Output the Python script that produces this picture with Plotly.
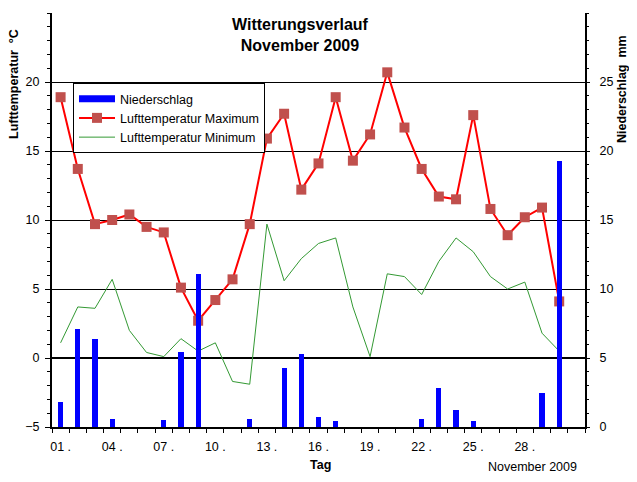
import plotly.graph_objects as go

days = list(range(1, 31))
t_max = [18.9, 13.7, 9.7, 10.0, 10.4, 9.5, 9.1, 5.1, 2.7, 4.2,
         5.7, 9.7, 15.9, 17.7, 12.2, 14.1, 18.9, 14.3, 16.2, 20.7,
         16.7, 13.7, 11.7, 11.5, 17.6, 10.8, 8.9, 10.2, 10.9, 4.1]
t_min = [1.1, 3.7, 3.6, 5.7, 2.0, 0.4, 0.1, 1.4, 0.5, 1.1,
         -1.7, -1.9, 9.7, 5.6, 7.2, 8.3, 8.7, 3.7, 0.1, 6.1,
         5.9, 4.6, 7.0, 8.7, 7.7, 5.9, 5.0, 5.5, 1.8, 0.5]
precip = [1.8, 7.1, 6.4, 0.6, 0, 0, 0.5, 5.4, 11.1, 0,
          0, 0.6, 0, 4.3, 5.3, 0.7, 0.4, 0, 0, 0,
          0, 0.6, 2.8, 1.2, 0.4, 0, 0, 0, 2.5, 19.3]
label_days = [1, 4, 7, 10, 13, 16, 19, 22, 25, 28]
label_text = ["%02d ." % d for d in label_days]

FONT = "Arial, Liberation Sans, sans-serif"
FS = 12.5

# the page body has an 8px default margin: shrink figure accordingly
OFF = 8
PL, PR, PT, PB = 52, 585, 13, 427  # plot area in window pixels
W, H = 637 - OFF, 482 - OFF
PW, PH = PR - PL, PB - PT


def px(x):
    return (x - PL) / PW


def py(y):
    return (PB - y) / PH


fig = go.Figure()
fig.add_trace(go.Bar(x=days, y=precip, name="Niederschlag", yaxis="y2", showlegend=False,
                     legendgroup="p",
                     marker=dict(color="#0000FF", line=dict(width=0)), width=0.3))
# legend entry for precipitation drawn as a wide blue bar symbol
fig.add_trace(go.Scatter(x=[None], y=[None], name="Niederschlag", mode="lines", legendgroup="p",
                         line=dict(color="#0000FF", width=7)))
fig.add_trace(go.Scatter(x=days, y=t_max, name="Lufttemperatur Maximum", mode="lines+markers",
                         line=dict(color="#FF0000", width=2),
                         marker=dict(symbol="square", size=10, color="#C0504D")))
fig.add_trace(go.Scatter(x=days, y=t_min, name="Lufttemperatur Minimum", mode="lines",
                         line=dict(color="#339933", width=1)))

fig.update_layout(
    width=W, height=H,
    margin=dict(l=PL - OFF, r=637 - PR, t=PT - OFF, b=482 - PB, autoexpand=False),
    paper_bgcolor="white", plot_bgcolor="white",
    font=dict(family=FONT, size=FS, color="black"),
    showlegend=True,
    legend=dict(x=px(73), y=py(83), xanchor="left", yanchor="top", bgcolor="white",
                bordercolor="black", borderwidth=1, font=dict(size=FS, family=FONT),
                tracegroupgap=0, itemwidth=36),
    bargap=0,
    xaxis=dict(range=[0.5, 31.5], tickvals=label_days, ticktext=label_text, ticks="",
               showgrid=False, zeroline=False, showline=True, linecolor="black", linewidth=2,
               tickfont=dict(size=FS), ticklabelstandoff=7,
               minor=dict(tick0=0.5, dtick=1, ticks="outside", ticklen=4, tickcolor="black",
                          tickwidth=1, showgrid=False)),
    yaxis=dict(range=[-5, 25], tickvals=[-5, 0, 5, 10, 15, 20], ticks="outside", ticklen=5,
               tickcolor="black", showgrid=True, gridcolor="black", gridwidth=1,
               zeroline=True, zerolinecolor="black", zerolinewidth=2,
               showline=True, linecolor="black", linewidth=2, tickfont=dict(size=FS),
               ticklabelstandoff=3,
               minor=dict(dtick=1, tick0=0, ticks="outside", ticklen=3, tickcolor="black",
                          showgrid=False)),
    yaxis2=dict(range=[0, 30], tickvals=[0, 5, 10, 15, 20, 25], overlaying="y", side="right",
                ticks="outside", ticklen=3, tickcolor="black", showgrid=False, zeroline=False,
                showline=True, linecolor="black", linewidth=2, tickfont=dict(size=FS),
                ticklabelstandoff=7,
                minor=dict(dtick=1, tick0=0, ticks="outside", ticklen=2, tickcolor="black",
                           showgrid=False)),
    annotations=[
        dict(text="<b>Witterungsverlauf<br>November 2009</b>", xref="paper", yref="paper",
             x=px(300), y=py(35), xanchor="center", yanchor="middle", showarrow=False,
             font=dict(size=16)),
        dict(text="<b>Lufttemperatur  °C</b>", textangle=-90, xref="paper", yref="paper",
             x=px(14), y=py(84), xanchor="center", yanchor="middle",
             showarrow=False, font=dict(size=FS)),
        dict(text="<b>Niederschlag  mm</b>", textangle=-90, xref="paper", yref="paper",
             x=px(622), y=py(89), xanchor="center", yanchor="middle",
             showarrow=False, font=dict(size=FS)),
        dict(text="<b>Tag</b>", xref="paper", yref="paper", x=px(320), y=py(465),
             xanchor="center", yanchor="middle", showarrow=False, font=dict(size=FS)),
        dict(text="November 2009", xref="paper", yref="paper", x=px(532),
             y=py(467), xanchor="center", yanchor="middle", showarrow=False,
             font=dict(size=FS)),
    ],
)

fig.write_html("out.html")
